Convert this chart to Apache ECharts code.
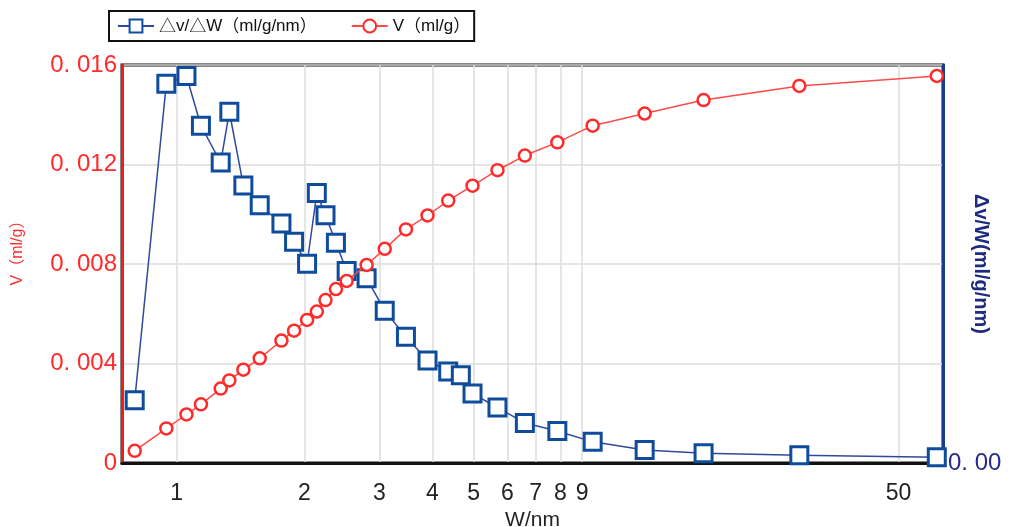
<!DOCTYPE html>
<html>
<head>
<meta charset="utf-8">
<script src="https://cdn.jsdelivr.net/npm/echarts@6/dist/echarts.min.js"></script>
<style>
  html, body { margin: 0; padding: 0; background: #fff; }
  #chart { width: 1011px; height: 527px; }
</style>
</head>
<body>
<div id="chart"></div>
<script>
  // pore width W (nm), shared by both series
  var poreWidth = [0.797, 0.946, 1.055, 1.141, 1.27, 1.331, 1.436, 1.569, 1.765, 1.89,
    2.028, 2.138, 2.241, 2.371, 2.513, 2.8, 3.089, 3.465, 3.895, 4.357,
    4.665, 4.97, 5.69, 6.60, 7.87, 9.53, 12.63, 17.38, 29.2, 61.5];
  // dV/dW (right axis)
  var dvdw = [0.00252, 0.01525, 0.01556, 0.01356, 0.01208, 0.01412, 0.01116, 0.01036, 0.00963, 0.00889,
    0.00801, 0.01085, 0.00996, 0.00885, 0.00772, 0.00743, 0.00612, 0.00508, 0.00412, 0.00368,
    0.00353, 0.00279, 0.00223, 0.00161, 0.00129, 0.00085, 0.00052, 0.00039, 0.00031, 0.00023];
  // cumulative V (left axis), no point at index 20
  var volume = [0.00049, 0.00139, 0.00195, 0.00236, 0.00299, 0.00332, 0.00375, 0.00421, 0.00492, 0.00532,
    0.00575, 0.00609, 0.00655, 0.00699, 0.00732, 0.00796, 0.00861, 0.00939, 0.00995, 0.01055,
    null, 0.01115, 0.01177, 0.01236, 0.01289, 0.01356, 0.01405, 0.01459, 0.01516, 0.01556];
  var xTicks = [1, 2, 3, 4, 5, 6, 7, 8, 9, 50];

  var xMin = 0.744, xMax = 63.6;

  function pairs(vals) {
    return poreWidth.map(function (w, i) {
      return [Math.log10(w), vals[i]];
    });
  }
  var tickPos = xTicks.map(function (t) { return Math.log10(t); });

  // legend text: triangles and parens drawn with the CJK font (full width)
  function legendText(name) {
    return name.replace(/[△（）]/g, function (c) { return '{c|' + c + '}'; });
  }

  var chart = echarts.init(document.getElementById('chart'));
  chart.setOption({
    animation: false,
    backgroundColor: '#fff',
    grid: {
      left: 122, right: 68, top: 65, bottom: 64,
      outerBoundsMode: 'none', containLabel: false,
      show: true, borderColor: '#111', borderWidth: 3
    },
    legend: {
      left: 109, top: 11,
      padding: [5, 4, 5, 8],
      borderColor: '#111', borderWidth: 2,
      itemWidth: 36, itemHeight: 16, itemGap: 34,
      formatter: legendText,
      textStyle: {
        color: '#111', fontSize: 17, lineHeight: 20, fontFamily: 'Liberation Sans',
        rich: { c: { color: '#111', fontSize: 17, lineHeight: 20, fontFamily: 'Noto Sans CJK SC' } }
      },
      data: ['△v/△W（ml/g/nm）', 'V（ml/g）']
    },
    xAxis: {
      type: 'value',
      min: Math.log10(xMin), max: Math.log10(xMax),
      name: 'W/nm', nameLocation: 'middle', nameGap: 38,
      nameTextStyle: { color: '#222', fontSize: 21, fontFamily: 'Liberation Sans Narrow, Liberation Sans' },
      axisLine: { onZero: false, lineStyle: { color: '#111', width: 3 } },
      axisTick: { show: false, customValues: tickPos },
      axisLabel: {
        customValues: tickPos, margin: 19,
        color: '#222', fontSize: 23, fontFamily: 'Liberation Sans Narrow, Liberation Sans',
        formatter: function (v) { return String(Math.round(Math.pow(10, v))); }
      },
      splitLine: { show: true, lineStyle: { color: '#dcdcdc', width: 1.5 } }
    },
    yAxis: [{
      type: 'value', min: 0, max: 0.016, interval: 0.004,
      name: 'V（ml/g）', nameLocation: 'middle', nameGap: 96, nameRotate: 90,
      nameMoveOverlap: false,
      nameTextStyle: { color: '#ff2a2a', fontSize: 16, padding: [0, 0, 0, 30], fontFamily: 'Liberation Sans, Noto Sans CJK SC' },
      axisLine: { show: true, onZero: false, lineStyle: { color: '#ee1c1c', width: 3 } },
      axisTick: { show: false },
      axisLabel: {
        color: '#ff2a2a', fontSize: 24, margin: 5, fontFamily: 'Liberation Sans',
        formatter: function (v) { return v === 0 ? '0' : '0. ' + v.toFixed(3).slice(2); }
      },
      splitLine: { show: true, lineStyle: { color: '#dcdcdc', width: 1.5 } }
    }, {
      type: 'value', min: 0, max: 0.016, interval: 0.004, position: 'right',
      name: 'Δv/W(ml/g/nm)', nameLocation: 'middle', nameGap: 28, nameRotate: -90,
      nameMoveOverlap: false,
      nameTextStyle: { color: '#1e2a80', fontSize: 20, fontWeight: 'bold', fontFamily: 'Liberation Sans' },
      axisLine: { show: true, onZero: false, lineStyle: { color: '#1c3a8c', width: 3 } },
      axisTick: { show: false },
      axisLabel: {
        color: '#2a2a8a', fontSize: 24, margin: 5, fontFamily: 'Liberation Sans',
        formatter: function (v) { return v === 0 ? '0. 00' : ''; }
      },
      splitLine: { show: false }
    }],
    series: [{
      name: '△v/△W（ml/g/nm）',
      type: 'line', yAxisIndex: 1,
      data: pairs(dvdw),
      symbol: 'rect', symbolSize: 17,
      lineStyle: { color: '#2f4a9c', width: 1.5 },
      itemStyle: { color: '#fff', borderColor: '#0f4c9c', borderWidth: 3 },
      z: 3
    }, {
      name: 'V（ml/g）',
      type: 'line', yAxisIndex: 0,
      data: pairs(volume), connectNulls: true,
      symbol: 'circle', symbolSize: 12,
      lineStyle: { color: '#ff4a4a', width: 1.5 },
      itemStyle: { color: '#fff', borderColor: '#ff2a2a', borderWidth: 2.5 },
      z: 4
    }]
  });
</script>
</body>
</html>
